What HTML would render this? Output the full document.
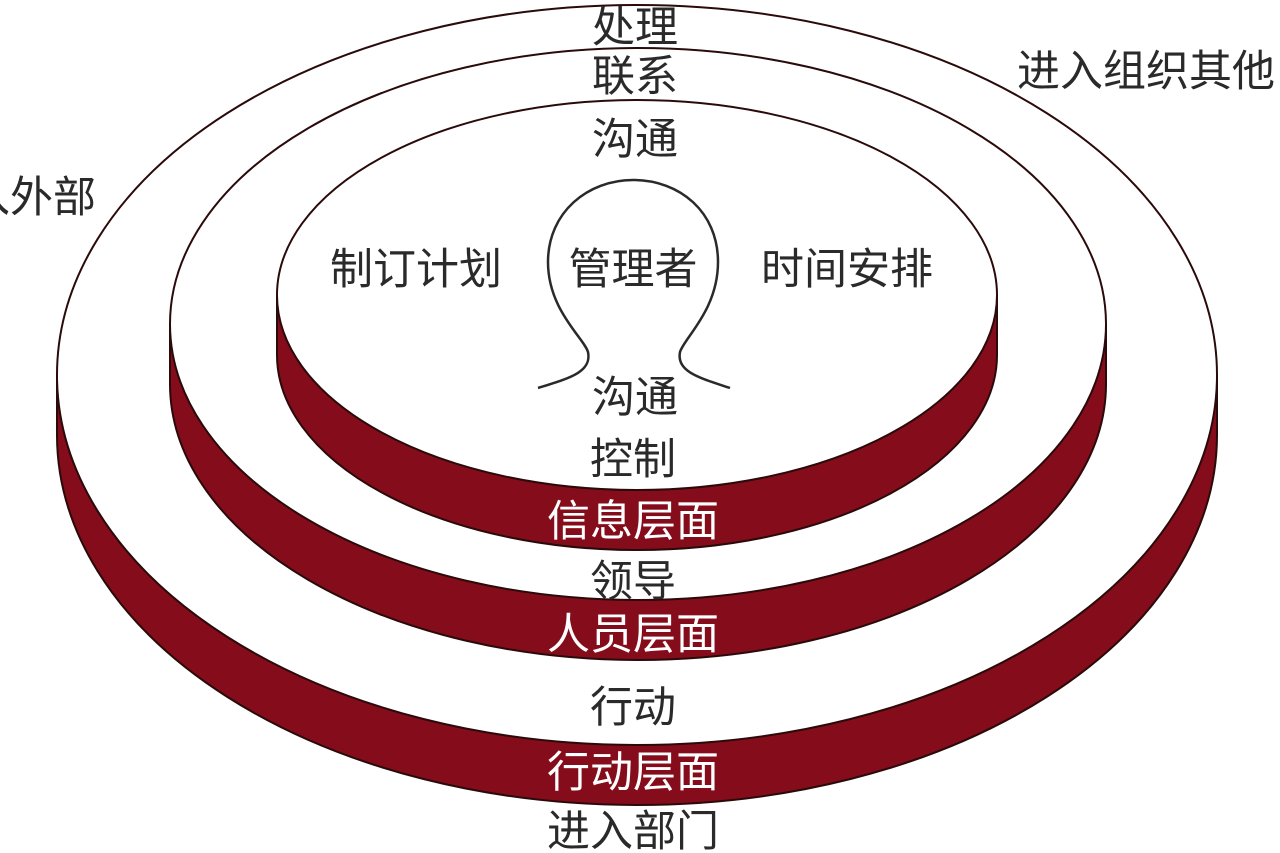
<!DOCTYPE html>
<html><head><meta charset="utf-8"><style>
html,body{margin:0;padding:0;background:#fff;}
svg{display:block}
text{font-family:"Liberation Sans","Noto Sans CJK SC",sans-serif;font-size:43px;fill:#2a2a2a;text-anchor:middle;dominant-baseline:central}
.w{fill:#fff}
</style></head><body>
<svg width="1280" height="853" viewBox="0 0 1280 853">
<g stroke="#2a0a0a" stroke-width="2">
<ellipse cx="637" cy="435" rx="580" ry="370" fill="#850c1a"/>
<rect x="57" y="375" width="1160" height="60" fill="#850c1a" stroke="none"/>
<line x1="57" y1="375" x2="57" y2="435"/><line x1="1217" y1="375" x2="1217" y2="435"/>
<ellipse cx="637" cy="375" rx="580" ry="370" fill="#fff"/>
<ellipse cx="638" cy="384" rx="468" ry="276" fill="#850c1a"/>
<rect x="170" y="324" width="936" height="60" fill="#850c1a" stroke="none"/>
<line x1="170" y1="324" x2="170" y2="384"/><line x1="1106" y1="324" x2="1106" y2="384"/>
<ellipse cx="638" cy="324" rx="468" ry="276" fill="#fff"/>
<ellipse cx="637" cy="355" rx="360" ry="195" fill="#850c1a"/>
<rect x="277" y="295" width="720" height="60" fill="#850c1a" stroke="none"/>
<line x1="277" y1="295" x2="277" y2="355"/><line x1="997" y1="295" x2="997" y2="355"/>
<ellipse cx="637" cy="295" rx="360" ry="195" fill="#fff"/>
</g>
<path d="M538,388 C570,378 592,372 588,352 C584,338 548,310 548,262 C548,212 588,180 633,180 C680,180 718,212 718,262 C718,310 684,338 680,352 C676,372 700,378 730,388" fill="none" stroke="#2a2a2a" stroke-width="2.5"/>
<text x="635" y="28">处理</text>
<text x="635" y="77">联系</text>
<text x="635" y="140">沟通</text>
<text x="416" y="270">制订计划</text>
<text x="633" y="270">管理者</text>
<text x="847" y="270">时间安排</text>
<text x="635" y="398">沟通</text>
<text x="633" y="460">控制</text>
<text x="633" y="522" class="w">信息层面</text>
<text x="633" y="582">领导</text>
<text x="633" y="635" class="w">人员层面</text>
<text x="633" y="708">行动</text>
<text x="633" y="773" class="w">行动层面</text>
<text x="633" y="832">进入部门</text>
<text x="1017" y="72" style="text-anchor:start">进入组织其他</text>
<text x="96" y="198" style="text-anchor:end">进入外部</text>
</svg>
</body></html>
